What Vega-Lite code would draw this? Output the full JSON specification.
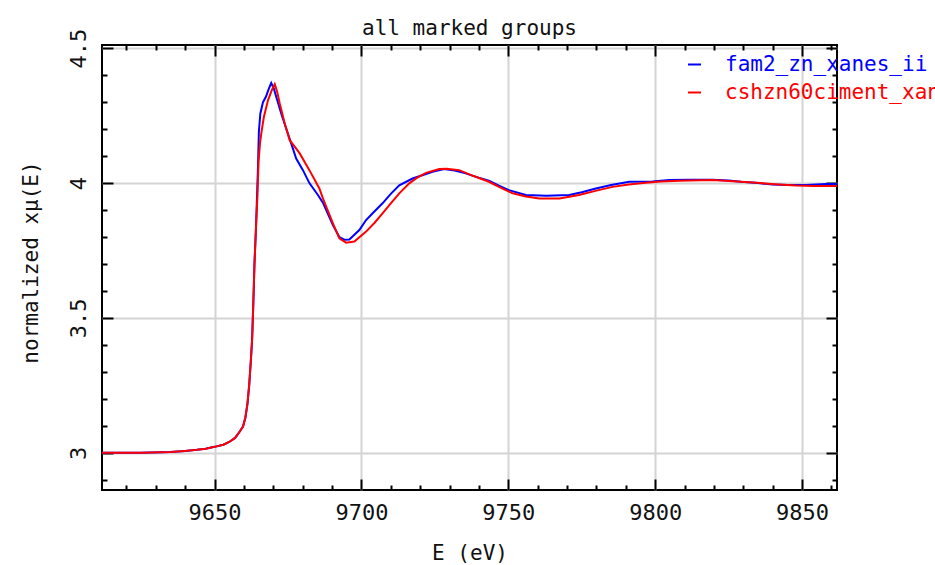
{
  "$schema": "https://vega.github.io/schema/vega-lite/v6.json",
  "autosize": "none",
  "width": 735,
  "height": 445,
  "padding": {"left": 102, "top": 45, "right": 98, "bottom": 75},
  "background": "white",
  "config": {
    "font": "DejaVu Sans Mono",
    "view": {"stroke": "black", "strokeWidth": 2},
    "axis": {"domain": false, "labelColor": "#111", "titleColor": "#111", "labelFont": "DejaVu Sans Mono", "titleFont": "DejaVu Sans Mono", "titleFontWeight": "normal"}
  },
  "title": {"text": "all marked groups", "font": "DejaVu Sans Mono", "fontSize": 21, "fontWeight": "normal", "color": "#111", "anchor": "middle", "offset": -11},
  "data": {"values": [
    {"E": 9611, "mu": 3.0, "group": "fam2_zn_xanes_ii"},
    {"E": 9625, "mu": 3.0, "group": "fam2_zn_xanes_ii"},
    {"E": 9635, "mu": 3.003, "group": "fam2_zn_xanes_ii"},
    {"E": 9640, "mu": 3.007, "group": "fam2_zn_xanes_ii"},
    {"E": 9644, "mu": 3.011, "group": "fam2_zn_xanes_ii"},
    {"E": 9647, "mu": 3.015, "group": "fam2_zn_xanes_ii"},
    {"E": 9650, "mu": 3.022, "group": "fam2_zn_xanes_ii"},
    {"E": 9653, "mu": 3.03, "group": "fam2_zn_xanes_ii"},
    {"E": 9655, "mu": 3.04, "group": "fam2_zn_xanes_ii"},
    {"E": 9657, "mu": 3.055, "group": "fam2_zn_xanes_ii"},
    {"E": 9658.6, "mu": 3.079, "group": "fam2_zn_xanes_ii"},
    {"E": 9659.7, "mu": 3.097, "group": "fam2_zn_xanes_ii"},
    {"E": 9660.5, "mu": 3.13, "group": "fam2_zn_xanes_ii"},
    {"E": 9661.2, "mu": 3.18, "group": "fam2_zn_xanes_ii"},
    {"E": 9661.8, "mu": 3.25, "group": "fam2_zn_xanes_ii"},
    {"E": 9662.3, "mu": 3.33, "group": "fam2_zn_xanes_ii"},
    {"E": 9662.8, "mu": 3.42, "group": "fam2_zn_xanes_ii"},
    {"E": 9663.2, "mu": 3.55, "group": "fam2_zn_xanes_ii"},
    {"E": 9663.6, "mu": 3.7, "group": "fam2_zn_xanes_ii"},
    {"E": 9664.1, "mu": 3.83, "group": "fam2_zn_xanes_ii"},
    {"E": 9664.5, "mu": 3.96, "group": "fam2_zn_xanes_ii"},
    {"E": 9664.8, "mu": 4.06, "group": "fam2_zn_xanes_ii"},
    {"E": 9665.1, "mu": 4.19, "group": "fam2_zn_xanes_ii"},
    {"E": 9665.6, "mu": 4.258, "group": "fam2_zn_xanes_ii"},
    {"E": 9666.5, "mu": 4.3, "group": "fam2_zn_xanes_ii"},
    {"E": 9667.5, "mu": 4.32, "group": "fam2_zn_xanes_ii"},
    {"E": 9668.5, "mu": 4.35, "group": "fam2_zn_xanes_ii"},
    {"E": 9669.3, "mu": 4.371, "group": "fam2_zn_xanes_ii"},
    {"E": 9670.2, "mu": 4.35, "group": "fam2_zn_xanes_ii"},
    {"E": 9671.0, "mu": 4.32, "group": "fam2_zn_xanes_ii"},
    {"E": 9672.7, "mu": 4.258, "group": "fam2_zn_xanes_ii"},
    {"E": 9674.6, "mu": 4.196, "group": "fam2_zn_xanes_ii"},
    {"E": 9676.1, "mu": 4.147, "group": "fam2_zn_xanes_ii"},
    {"E": 9677.8, "mu": 4.091, "group": "fam2_zn_xanes_ii"},
    {"E": 9680.1, "mu": 4.048, "group": "fam2_zn_xanes_ii"},
    {"E": 9682.3, "mu": 4.0, "group": "fam2_zn_xanes_ii"},
    {"E": 9685.2, "mu": 3.956, "group": "fam2_zn_xanes_ii"},
    {"E": 9687, "mu": 3.925, "group": "fam2_zn_xanes_ii"},
    {"E": 9690.3, "mu": 3.844, "group": "fam2_zn_xanes_ii"},
    {"E": 9692.5, "mu": 3.8, "group": "fam2_zn_xanes_ii"},
    {"E": 9694.2, "mu": 3.79, "group": "fam2_zn_xanes_ii"},
    {"E": 9695.9, "mu": 3.791, "group": "fam2_zn_xanes_ii"},
    {"E": 9699.3, "mu": 3.826, "group": "fam2_zn_xanes_ii"},
    {"E": 9701.6, "mu": 3.863, "group": "fam2_zn_xanes_ii"},
    {"E": 9704, "mu": 3.89, "group": "fam2_zn_xanes_ii"},
    {"E": 9707.2, "mu": 3.925, "group": "fam2_zn_xanes_ii"},
    {"E": 9710, "mu": 3.96, "group": "fam2_zn_xanes_ii"},
    {"E": 9712.9, "mu": 3.992, "group": "fam2_zn_xanes_ii"},
    {"E": 9717.4, "mu": 4.017, "group": "fam2_zn_xanes_ii"},
    {"E": 9721, "mu": 4.03, "group": "fam2_zn_xanes_ii"},
    {"E": 9724.2, "mu": 4.042, "group": "fam2_zn_xanes_ii"},
    {"E": 9728.2, "mu": 4.052, "group": "fam2_zn_xanes_ii"},
    {"E": 9731, "mu": 4.048, "group": "fam2_zn_xanes_ii"},
    {"E": 9735.5, "mu": 4.036, "group": "fam2_zn_xanes_ii"},
    {"E": 9739, "mu": 4.023, "group": "fam2_zn_xanes_ii"},
    {"E": 9743.4, "mu": 4.009, "group": "fam2_zn_xanes_ii"},
    {"E": 9747, "mu": 3.99, "group": "fam2_zn_xanes_ii"},
    {"E": 9750.2, "mu": 3.974, "group": "fam2_zn_xanes_ii"},
    {"E": 9756, "mu": 3.956, "group": "fam2_zn_xanes_ii"},
    {"E": 9763, "mu": 3.953, "group": "fam2_zn_xanes_ii"},
    {"E": 9770.7, "mu": 3.956, "group": "fam2_zn_xanes_ii"},
    {"E": 9775, "mu": 3.966, "group": "fam2_zn_xanes_ii"},
    {"E": 9779.8, "mu": 3.98, "group": "fam2_zn_xanes_ii"},
    {"E": 9785, "mu": 3.993, "group": "fam2_zn_xanes_ii"},
    {"E": 9791.2, "mu": 4.005, "group": "fam2_zn_xanes_ii"},
    {"E": 9799.1, "mu": 4.006, "group": "fam2_zn_xanes_ii"},
    {"E": 9804.8, "mu": 4.011, "group": "fam2_zn_xanes_ii"},
    {"E": 9812, "mu": 4.012, "group": "fam2_zn_xanes_ii"},
    {"E": 9819.5, "mu": 4.012, "group": "fam2_zn_xanes_ii"},
    {"E": 9825, "mu": 4.01, "group": "fam2_zn_xanes_ii"},
    {"E": 9829.2, "mu": 4.005, "group": "fam2_zn_xanes_ii"},
    {"E": 9835, "mu": 4.0, "group": "fam2_zn_xanes_ii"},
    {"E": 9840, "mu": 3.995, "group": "fam2_zn_xanes_ii"},
    {"E": 9845, "mu": 3.993, "group": "fam2_zn_xanes_ii"},
    {"E": 9851.4, "mu": 3.993, "group": "fam2_zn_xanes_ii"},
    {"E": 9858.2, "mu": 3.997, "group": "fam2_zn_xanes_ii"},
    {"E": 9862, "mu": 3.997, "group": "fam2_zn_xanes_ii"},
    {"E": 9611, "mu": 3.0, "group": "cshzn60ciment_xanes"},
    {"E": 9625, "mu": 3.0, "group": "cshzn60ciment_xanes"},
    {"E": 9635, "mu": 3.003, "group": "cshzn60ciment_xanes"},
    {"E": 9640, "mu": 3.007, "group": "cshzn60ciment_xanes"},
    {"E": 9644, "mu": 3.011, "group": "cshzn60ciment_xanes"},
    {"E": 9647, "mu": 3.015, "group": "cshzn60ciment_xanes"},
    {"E": 9650, "mu": 3.022, "group": "cshzn60ciment_xanes"},
    {"E": 9653, "mu": 3.03, "group": "cshzn60ciment_xanes"},
    {"E": 9655, "mu": 3.04, "group": "cshzn60ciment_xanes"},
    {"E": 9657, "mu": 3.055, "group": "cshzn60ciment_xanes"},
    {"E": 9658.6, "mu": 3.079, "group": "cshzn60ciment_xanes"},
    {"E": 9659.7, "mu": 3.097, "group": "cshzn60ciment_xanes"},
    {"E": 9660.5, "mu": 3.13, "group": "cshzn60ciment_xanes"},
    {"E": 9661.2, "mu": 3.18, "group": "cshzn60ciment_xanes"},
    {"E": 9661.8, "mu": 3.25, "group": "cshzn60ciment_xanes"},
    {"E": 9662.3, "mu": 3.33, "group": "cshzn60ciment_xanes"},
    {"E": 9662.8, "mu": 3.42, "group": "cshzn60ciment_xanes"},
    {"E": 9663.2, "mu": 3.55, "group": "cshzn60ciment_xanes"},
    {"E": 9663.6, "mu": 3.7, "group": "cshzn60ciment_xanes"},
    {"E": 9664.1, "mu": 3.83, "group": "cshzn60ciment_xanes"},
    {"E": 9664.6, "mu": 3.95, "group": "cshzn60ciment_xanes"},
    {"E": 9665.0, "mu": 4.08, "group": "cshzn60ciment_xanes"},
    {"E": 9665.5, "mu": 4.15, "group": "cshzn60ciment_xanes"},
    {"E": 9666.0, "mu": 4.19, "group": "cshzn60ciment_xanes"},
    {"E": 9666.8, "mu": 4.245, "group": "cshzn60ciment_xanes"},
    {"E": 9668.2, "mu": 4.307, "group": "cshzn60ciment_xanes"},
    {"E": 9669.5, "mu": 4.345, "group": "cshzn60ciment_xanes"},
    {"E": 9670.5, "mu": 4.367, "group": "cshzn60ciment_xanes"},
    {"E": 9671.3, "mu": 4.34, "group": "cshzn60ciment_xanes"},
    {"E": 9672.2, "mu": 4.295, "group": "cshzn60ciment_xanes"},
    {"E": 9673.9, "mu": 4.221, "group": "cshzn60ciment_xanes"},
    {"E": 9675.6, "mu": 4.159, "group": "cshzn60ciment_xanes"},
    {"E": 9677.8, "mu": 4.128, "group": "cshzn60ciment_xanes"},
    {"E": 9679.0, "mu": 4.11, "group": "cshzn60ciment_xanes"},
    {"E": 9682.3, "mu": 4.048, "group": "cshzn60ciment_xanes"},
    {"E": 9685.7, "mu": 3.98, "group": "cshzn60ciment_xanes"},
    {"E": 9686.9, "mu": 3.943, "group": "cshzn60ciment_xanes"},
    {"E": 9690.3, "mu": 3.851, "group": "cshzn60ciment_xanes"},
    {"E": 9692.5, "mu": 3.795, "group": "cshzn60ciment_xanes"},
    {"E": 9694.8, "mu": 3.779, "group": "cshzn60ciment_xanes"},
    {"E": 9697.6, "mu": 3.783, "group": "cshzn60ciment_xanes"},
    {"E": 9701.6, "mu": 3.82, "group": "cshzn60ciment_xanes"},
    {"E": 9704.5, "mu": 3.853, "group": "cshzn60ciment_xanes"},
    {"E": 9707.2, "mu": 3.888, "group": "cshzn60ciment_xanes"},
    {"E": 9710, "mu": 3.925, "group": "cshzn60ciment_xanes"},
    {"E": 9712.9, "mu": 3.962, "group": "cshzn60ciment_xanes"},
    {"E": 9716.3, "mu": 3.999, "group": "cshzn60ciment_xanes"},
    {"E": 9719, "mu": 4.02, "group": "cshzn60ciment_xanes"},
    {"E": 9722.0, "mu": 4.038, "group": "cshzn60ciment_xanes"},
    {"E": 9726.5, "mu": 4.052, "group": "cshzn60ciment_xanes"},
    {"E": 9729, "mu": 4.053, "group": "cshzn60ciment_xanes"},
    {"E": 9733.3, "mu": 4.048, "group": "cshzn60ciment_xanes"},
    {"E": 9738, "mu": 4.027, "group": "cshzn60ciment_xanes"},
    {"E": 9743.4, "mu": 4.005, "group": "cshzn60ciment_xanes"},
    {"E": 9747, "mu": 3.985, "group": "cshzn60ciment_xanes"},
    {"E": 9751.5, "mu": 3.962, "group": "cshzn60ciment_xanes"},
    {"E": 9756, "mu": 3.95, "group": "cshzn60ciment_xanes"},
    {"E": 9760.6, "mu": 3.943, "group": "cshzn60ciment_xanes"},
    {"E": 9767.4, "mu": 3.943, "group": "cshzn60ciment_xanes"},
    {"E": 9774.1, "mu": 3.956, "group": "cshzn60ciment_xanes"},
    {"E": 9780, "mu": 3.972, "group": "cshzn60ciment_xanes"},
    {"E": 9785.5, "mu": 3.986, "group": "cshzn60ciment_xanes"},
    {"E": 9791, "mu": 3.995, "group": "cshzn60ciment_xanes"},
    {"E": 9796.8, "mu": 4.001, "group": "cshzn60ciment_xanes"},
    {"E": 9802, "mu": 4.006, "group": "cshzn60ciment_xanes"},
    {"E": 9808.2, "mu": 4.009, "group": "cshzn60ciment_xanes"},
    {"E": 9819.5, "mu": 4.011, "group": "cshzn60ciment_xanes"},
    {"E": 9829.2, "mu": 4.005, "group": "cshzn60ciment_xanes"},
    {"E": 9836, "mu": 4.0, "group": "cshzn60ciment_xanes"},
    {"E": 9842, "mu": 3.995, "group": "cshzn60ciment_xanes"},
    {"E": 9848, "mu": 3.991, "group": "cshzn60ciment_xanes"},
    {"E": 9853.8, "mu": 3.989, "group": "cshzn60ciment_xanes"},
    {"E": 9862, "mu": 3.989, "group": "cshzn60ciment_xanes"}
  ]},
  "resolve": {"axis": {"x": "independent", "y": "independent"}},
  "layer": [
    {
      "mark": {"type": "point", "opacity": 0, "size": 0},
      "encoding": {
        "x": {"field": "E", "type": "quantitative", "axis": {"orient": "bottom", "values": [9650, 9700, 9750, 9800, 9850], "labels": false, "grid": false, "ticks": true, "tickSize": -11, "tickWidth": 2, "tickColor": "black", "title": null}},
        "y": {"field": "mu", "type": "quantitative", "axis": {"orient": "left", "values": [3, 3.5, 4, 4.5], "labels": false, "grid": false, "ticks": true, "tickSize": -11, "tickWidth": 2, "tickColor": "black", "title": null}}
      }
    },
    {
      "mark": {"type": "point", "opacity": 0, "size": 0},
      "encoding": {
        "x": {"field": "E", "type": "quantitative", "axis": {"orient": "top", "values": [9650, 9700, 9750, 9800, 9850], "labels": false, "grid": false, "ticks": true, "tickSize": -11, "tickWidth": 2, "tickColor": "black", "title": null}},
        "y": {"field": "mu", "type": "quantitative", "axis": {"orient": "right", "values": [3, 3.5, 4, 4.5], "labels": false, "grid": false, "ticks": true, "tickSize": -11, "tickWidth": 2, "tickColor": "black", "title": null}}
      }
    },
    {
      "mark": {"type": "point", "opacity": 0, "size": 0},
      "encoding": {
        "x": {"field": "E", "type": "quantitative", "axis": {"orient": "bottom", "values": [9620, 9630, 9640, 9660, 9670, 9680, 9690, 9710, 9720, 9730, 9740, 9760, 9770, 9780, 9790, 9810, 9820, 9830, 9840, 9860], "labels": false, "grid": false, "ticks": true, "tickSize": -5, "tickWidth": 2, "tickColor": "black", "title": null}},
        "y": {"field": "mu", "type": "quantitative", "axis": {"orient": "left", "values": [2.9, 3.1, 3.2, 3.3, 3.4, 3.6, 3.7, 3.8, 3.9, 4.1, 4.2, 4.3, 4.4], "labels": false, "grid": false, "ticks": true, "tickSize": -5, "tickWidth": 2, "tickColor": "black", "title": null}}
      }
    },
    {
      "mark": {"type": "point", "opacity": 0, "size": 0},
      "encoding": {
        "x": {"field": "E", "type": "quantitative", "axis": {"orient": "top", "values": [9620, 9630, 9640, 9660, 9670, 9680, 9690, 9710, 9720, 9730, 9740, 9760, 9770, 9780, 9790, 9810, 9820, 9830, 9840, 9860], "labels": false, "grid": false, "ticks": true, "tickSize": -5, "tickWidth": 2, "tickColor": "black", "title": null}},
        "y": {"field": "mu", "type": "quantitative", "axis": {"orient": "right", "values": [2.9, 3.1, 3.2, 3.3, 3.4, 3.6, 3.7, 3.8, 3.9, 4.1, 4.2, 4.3, 4.4], "labels": false, "grid": false, "ticks": true, "tickSize": -5, "tickWidth": 2, "tickColor": "black", "title": null}}
      }
    },
    {
      "mark": {"type": "line", "strokeWidth": 2, "clip": true},
      "encoding": {
        "x": {"field": "E", "type": "quantitative", "scale": {"domain": [9611.7, 9861.9], "nice": false, "zero": false},
          "axis": {"orient": "bottom", "values": [9650, 9700, 9750, 9800, 9850], "format": "d", "ticks": false, "grid": true, "gridColor": "#d4d4d4", "gridWidth": 2, "labelFontSize": 22, "labelPadding": 12, "title": "E (eV)", "titleFontSize": 21, "titleBaseline": "alphabetic", "titleY": 69, "labelFlush": false}},
        "y": {"field": "mu", "type": "quantitative", "scale": {"domain": [2.862, 4.512], "nice": false, "zero": false},
          "axis": {"orient": "left", "values": [3, 3.5, 4, 4.5], "ticks": false, "grid": true, "gridColor": "#d4d4d4", "gridWidth": 2, "labelFontSize": 22, "labelAngle": -90, "labelAlign": "center", "labelBaseline": "alphabetic", "labelPadding": 17, "labelFlush": false, "labelExpr": "datum.value == 3 || datum.value == 4 ? format(datum.value, 'd') : format(datum.value, '.1f')", "title": "normalized xμ(E)", "titleFontSize": 21, "titleAngle": -90, "titleAlign": "center", "titleBaseline": "alphabetic", "titleX": -65, "titleY": 217}},
        "color": {"field": "group", "type": "nominal", "sort": null,
          "scale": {"domain": ["fam2_zn_xanes_ii", "cshzn60ciment_xanes"], "range": ["#0000ff", "#ff0000"]},
          "legend": {"orient": "none", "legendX": 582, "legendY": 9, "title": null, "symbolType": "stroke", "symbolSize": 170, "symbolStrokeWidth": 2, "labelFontSize": 21, "labelFont": "DejaVu Sans Mono", "labelOffset": 20, "labelLimit": 500, "rowPadding": 6,
            "encode": {"labels": {"update": {"fill": {"scale": "color", "field": "value"}}}}}}
      }
    }
  ]
}
